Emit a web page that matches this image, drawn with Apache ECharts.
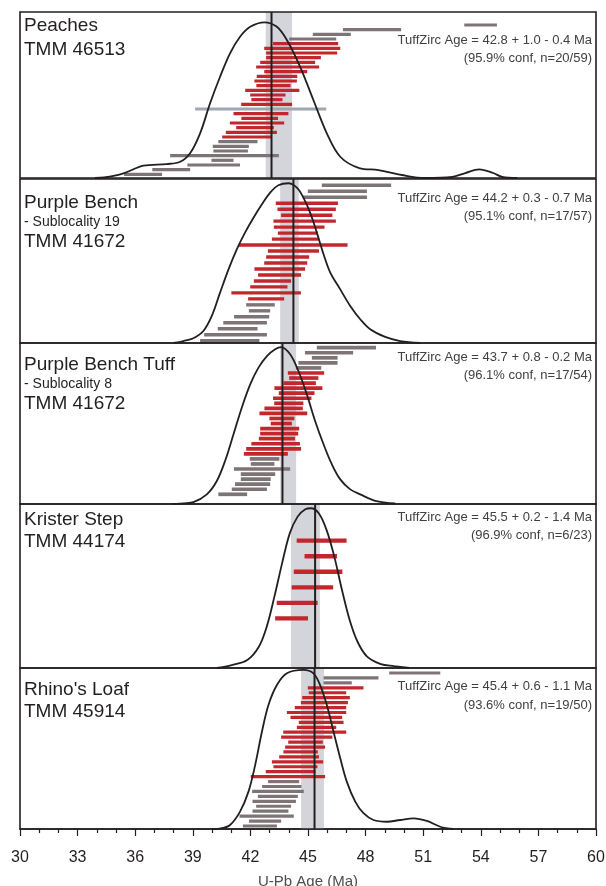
<!DOCTYPE html>
<html><head><meta charset="utf-8">
<script src="https://cdn.jsdelivr.net/npm/echarts/dist/echarts.min.js"></script>
<style>html,body{margin:0;padding:0;background:#fff}#c{width:606px;height:886px}</style>
</head><body><div id="c"></div>
<script>
// ---------------- DATA ----------------
const panelNames = ['Peaches', 'Purple Bench', 'Purple Bench Tuff', 'Krister Step', "Rhino's Loaf"];
const panelSubs = ['', '- Sublocality 19', '- Sublocality 8', '', ''];
const panelIds = ['TMM 46513', 'TMM 41672', 'TMM 41672', 'TMM 44174', 'TMM 45914'];
const ageTexts = ['TuffZirc Age = 42.8 + 1.0 - 0.4 Ma', 'TuffZirc Age = 44.2 + 0.3 - 0.7 Ma',
  'TuffZirc Age = 43.7 + 0.8 - 0.2 Ma', 'TuffZirc Age = 45.5 + 0.2 - 1.4 Ma', 'TuffZirc Age = 45.4 + 0.6 - 1.1 Ma'];
const confTexts = ['(95.9% conf, n=20/59)', '(95.1% conf, n=17/57)', '(96.1% conf, n=17/54)',
  '(96.9% conf, n=6/23)', '(93.6% conf, n=19/50)'];
const axisTitle = 'U-Pb Age (Ma)';

const ageLine = [43.1, 44.24, 43.67, 45.37, 45.34];
const bandLo = [42.8, 43.55, 43.55, 44.11, 44.64];
const bandHi = [44.17, 44.52, 44.38, 45.62, 45.83];

// bars (g = rejected grey, r = accepted red, b = blue-grey)
const peachesLo = [53.14,46.82,45.25,44.02,43.18,42.72,42.82,42.82,42.51,42.30,42.72,42.33,42.21,42.31,41.73,41.99,42.05,41.52,39.12,41.12,41.53,40.93,41.26,40.72,40.53,40.33,40.04,40.07,37.82,39.97,38.72,36.89,35.42];
const peachesHi = [54.84,49.85,47.23,46.47,46.57,46.68,46.52,45.67,45.37,45.58,44.96,44.44,44.42,44.09,44.55,43.83,43.67,44.17,45.95,43.98,43.44,43.76,43.22,43.38,43.12,42.37,41.92,41.87,43.48,41.12,41.46,38.86,37.40];
const peachesKind = 'ggggrrrrrrrrrrrrrrbrrrrrrgggggggg';

const pbLo = [45.72,44.99,44.73,43.32,43.41,43.60,43.20,43.22,43.43,43.12,41.40,42.91,42.82,42.72,42.21,42.40,42.18,41.99,41.01,41.88,41.78,41.92,41.15,40.59,40.30,39.59,39.38];
const pbHi = [49.33,48.07,48.07,46.56,46.45,46.27,46.45,45.86,45.51,45.54,47.06,45.57,45.06,44.96,44.85,44.64,44.12,43.93,44.63,43.76,43.27,43.03,42.98,42.86,42.37,42.86,42.47];
const pbKind = 'gggrrrrrrrrrrrrrrrrrggggggg';

const pbtLo = [45.46,44.84,45.20,44.50,44.37,43.95,44.02,43.72,43.25,43.48,43.18,43.24,42.73,42.47,42.99,43.06,42.51,42.51,42.44,42.05,41.78,41.66,41.97,42.02,41.14,41.50,41.50,41.20,41.03,40.33];
const pbtHi = [48.54,47.35,46.54,46.54,45.69,45.84,45.54,45.41,45.75,45.34,45.18,44.76,44.73,44.96,44.29,44.16,44.54,44.49,44.32,44.58,44.64,43.95,43.51,43.25,44.07,43.29,43.06,43.03,42.86,41.83];
const pbtKind = 'gggggrrrrrrrrrrrrrrrrrgggggggg';

const ksLo = [44.41,44.82,44.26,44.15,43.37,43.29];
const ksHi = [47.01,46.51,46.79,46.31,45.50,45.00];
const ksKind = 'rrrrrr';

const rlLo = [49.23,45.81,45.81,44.99,45.04,44.70,44.63,44.31,43.90,44.09,44.52,44.42,43.71,43.60,43.97,43.81,43.72,43.50,43.12,43.20,42.80,42.02,42.92,42.61,42.09,42.39,42.11,42.30,42.11,41.43,41.93,41.61];
const rlHi = [51.89,48.67,47.28,47.89,46.99,47.18,47.08,46.99,46.99,46.78,46.85,46.47,46.99,46.27,45.77,45.89,45.51,45.57,45.79,45.49,45.39,45.89,44.54,44.66,44.78,44.47,44.37,44.12,43.98,44.26,43.60,43.38];
const rlKind = 'gggrrrrrrrrrrrrrrrrrrrgggggggggg';

// probability density curves (age, relative height)
const peachesCurveX = [33.9,34.38,35.39,36.43,37.64,38.34,38.86,39.38,39.90,40.42,40.94,41.46,41.99,42.73,43.38,43.90,44.59,45.28,45.98,46.68,47.67,48.68,49.89,51.10,52.51,53.19,53.92,54.65,55.12,55.9];
const peachesCurveY = [0,0.003,0.028,0.074,0.084,0.098,0.149,0.269,0.45,0.61,0.751,0.851,0.911,0.938,0.911,0.831,0.67,0.47,0.269,0.128,0.06,0.048,0.018,0,0.006,0.03,0.052,0.03,0.006,0];
const pbCurveX = [38.0,38.51,39.03,39.55,39.99,40.42,40.86,41.29,41.72,42.16,42.60,43.03,43.46,43.98,44.42,44.76,45.11,45.46,45.81,46.16,46.68,47.20,47.72,48.24,49.02,49.80,50.84];
const pbCurveY = [0,0.012,0.029,0.073,0.165,0.307,0.449,0.571,0.673,0.764,0.846,0.917,0.962,0.974,0.947,0.886,0.795,0.673,0.541,0.429,0.327,0.226,0.145,0.084,0.037,0.012,0];
const pbtCurveX = [37.9,38.34,39.03,39.73,40.25,40.68,41.12,41.55,41.99,42.42,42.86,43.29,43.60,44.07,44.50,44.94,45.37,45.81,46.24,46.68,47.20,47.72,48.50,49.54];
const pbtCurveY = [0,0.002,0.012,0.060,0.143,0.267,0.433,0.598,0.743,0.847,0.919,0.961,0.975,0.930,0.826,0.681,0.516,0.371,0.247,0.153,0.091,0.060,0.02,0.003];
const ksCurveX = [40.23,41.03,41.84,42.44,42.85,43.25,43.65,44.05,44.46,44.86,45.16,45.56,45.97,46.37,46.77,47.17,47.58,48.08,48.79,49.49,50.29];
const ksCurveY = [0,0.018,0.049,0.130,0.252,0.435,0.638,0.821,0.923,0.968,0.974,0.943,0.841,0.679,0.476,0.293,0.160,0.069,0.024,0.012,0];
const rlCurveX = [40.0,40.42,40.94,41.46,41.90,42.25,42.60,42.94,43.38,43.90,44.76,45.28,45.63,45.98,46.33,46.68,47.02,47.46,47.89,48.41,49.11,49.80,50.50,51.19,51.89,52.58];
const rlCurveY = [0,0.003,0.025,0.108,0.232,0.398,0.604,0.770,0.894,0.967,0.988,0.967,0.894,0.770,0.604,0.439,0.294,0.170,0.098,0.056,0.045,0.056,0.066,0.050,0.014,0];

const xMin = 30, xMax = 60, xLabelStep = 3;

// ---------------- BUILD ----------------
const barsLo = [peachesLo, pbLo, pbtLo, ksLo, rlLo];
const barsHi = [peachesHi, pbHi, pbtHi, ksHi, rlHi];
const barsKind = [peachesKind, pbKind, pbtKind, ksKind, rlKind];
const curvesX = [peachesCurveX, pbCurveX, pbtCurveX, ksCurveX, rlCurveX];
const curvesY = [peachesCurveY, pbCurveY, pbtCurveY, ksCurveY, rlCurveY];

const INK = '#231f20';
const colorOf = { g: '#7e7476', r: '#c1272d', b: '#a0a7b0' };
const FONT = 'Liberation Sans';

const L = {
  left: 20, width: 576,
  tops: [12, 179, 343, 504, 668],
  heights: [166, 164, 161, 164, 161],
  rowMin: [-2.786, -1.054, -0.93, -2.365, -1.013],
  rowMax: [32.79, 26.385, 30.92, 8.2, 31.61],
  barH: [3.2, 3.4, 3.7, 4.3, 3.2],
  nameY: [[25.8, null, 49.5], [202.5, 221.7, 241.3], [365, 384.3, 403.3], [520, null, 541.7], [690, null, 711.7]],
  annY: [[40.5, 58], [198, 216], [357, 375.5], [517, 535.5], [686, 705]]
};

const grids = [], xAxes = [], yAxes = [], series = [], graphics = [];
for (let i = 0; i < 5; i++) {
  const last = i === 4;
  grids.push({ left: L.left, width: L.width, top: L.tops[i], height: L.heights[i], show: false,
    containLabel: false, outerBoundsMode: 'none' });
  xAxes.push({
    type: 'value', gridIndex: i, min: xMin, max: xMax, interval: xLabelStep, show: last,
    axisLine: { show: true, lineStyle: { color: INK, width: 1.5 } },
    axisTick: { show: true, length: 7, lineStyle: { color: INK, width: 1.2 } },
    minorTick: { show: true, splitNumber: 3, length: 4, lineStyle: { color: INK, width: 1.2 } },
    splitLine: { show: false }, minorSplitLine: { show: false },
    axisLabel: { fontSize: 16, color: INK, margin: 21, fontFamily: FONT },
    name: last ? axisTitle : '', nameLocation: 'middle', nameGap: 45,
    nameTextStyle: { fontSize: 15, color: '#4d4d4d', fontFamily: FONT }
  });
  yAxes.push({ type: 'value', gridIndex: i, min: 0, max: 1, show: false });
  yAxes.push({ type: 'value', gridIndex: i, min: L.rowMin[i], max: L.rowMax[i], inverse: true, show: false });

  // uncertainty band
  series.push({
    type: 'custom', xAxisIndex: i, yAxisIndex: 2 * i, z: 1, silent: true,
    encode: { x: [0, 1], y: 2 },
    data: [[bandLo[i], bandHi[i], 0]],
    renderItem: function (params, api) {
      const cs = params.coordSys;
      const a = api.coord([api.value(0), 0])[0];
      const b = api.coord([api.value(1), 0])[0];
      return { type: 'rect', shape: { x: a, y: cs.y, width: b - a, height: cs.height }, style: { fill: '#d4d5da' } };
    }
  });
  // bars
  const h = L.barH[i];
  series.push({
    type: 'custom', xAxisIndex: i, yAxisIndex: 2 * i + 1, z: 2, silent: true,
    encode: { x: [0, 1], y: 2 },
    data: barsLo[i].map((v, k) => ({ value: [v, barsHi[i][k], k], itemStyle: { color: colorOf[barsKind[i][k]] } })),
    renderItem: function (params, api) {
      const a = api.coord([api.value(0), api.value(2)]);
      const b = api.coord([api.value(1), api.value(2)]);
      return { type: 'rect', shape: { x: a[0], y: a[1] - h / 2, width: b[0] - a[0], height: h }, style: { fill: api.visual('color') } };
    }
  });
  // density curve
  series.push({
    type: 'line', xAxisIndex: i, yAxisIndex: 2 * i, z: 3, silent: true,
    data: curvesX[i].map((v, k) => [v, curvesY[i][k]]),
    smooth: 0.35, symbol: 'none',
    lineStyle: { color: INK, width: 1.8 }
  });
  // age line
  series.push({
    type: 'custom', xAxisIndex: i, yAxisIndex: 2 * i, z: 4, silent: true,
    encode: { x: 0, y: 1 },
    data: [[ageLine[i], 0]],
    renderItem: function (params, api) {
      const cs = params.coordSys;
      const x = api.coord([api.value(0), 0])[0];
      return { type: 'line', shape: { x1: x, y1: cs.y, x2: x, y2: cs.y + cs.height }, style: { stroke: INK, lineWidth: 2 } };
    }
  });

  // frame
  graphics.push({ type: 'rect', z: 100, silent: true,
    shape: { x: L.left, y: L.tops[i], width: L.width, height: L.heights[i] },
    style: { fill: null, stroke: INK, lineWidth: 1.6 } });
  // labels
  const ny = L.nameY[i];
  graphics.push({ type: 'text', z: 101, style: { text: panelNames[i], x: 24, y: ny[0], fill: INK, fontSize: 19, fontFamily: FONT, align: 'left', verticalAlign: 'middle' } });
  if (panelSubs[i]) graphics.push({ type: 'text', z: 101, style: { text: panelSubs[i], x: 24, y: ny[1], fill: INK, fontSize: 14, fontFamily: FONT, align: 'left', verticalAlign: 'middle' } });
  graphics.push({ type: 'text', z: 101, style: { text: panelIds[i], x: 24, y: ny[2], fill: INK, fontSize: 19, fontFamily: FONT, align: 'left', verticalAlign: 'middle' } });
  const ay = L.annY[i];
  graphics.push({ type: 'text', z: 101, style: { text: ageTexts[i], x: 592, y: ay[0], fill: '#404040', fontSize: 13, fontFamily: FONT, align: 'right', verticalAlign: 'middle' } });
  graphics.push({ type: 'text', z: 101, style: { text: confTexts[i], x: 592, y: ay[1], fill: '#404040', fontSize: 13, fontFamily: FONT, align: 'right', verticalAlign: 'middle' } });
}

const chart = echarts.init(document.getElementById('c'));
chart.setOption({
  animation: false,
  backgroundColor: '#fff',
  grid: grids, xAxis: xAxes, yAxis: yAxes, series: series, graphic: graphics
});
</script></body></html>
